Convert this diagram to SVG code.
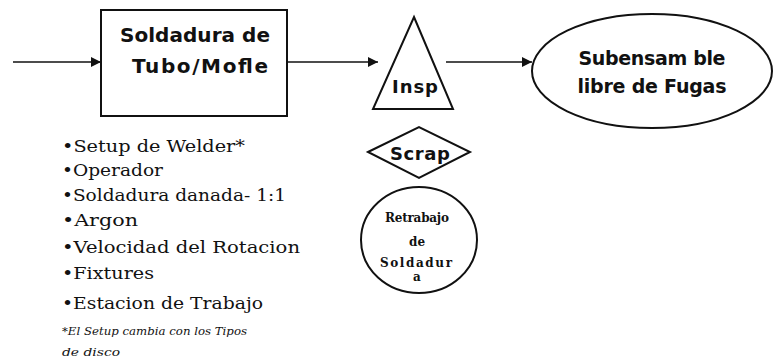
<svg xmlns="http://www.w3.org/2000/svg" width="773" height="359" viewBox="0 0 773 359">
<style>
.shape{fill:#fff;stroke:#111;stroke-width:2}
.conn{stroke:#111;stroke-width:1.6;fill:none}
.bold{font-family:"DejaVu Sans","Liberation Sans",sans-serif;font-weight:bold;fill:#111;text-anchor:middle}
.serif{font-family:"DejaVu Serif","Liberation Serif",serif;fill:#111}
.small{font-family:"DejaVu Serif","Liberation Serif",serif;font-weight:bold;fill:#111;text-anchor:middle;font-size:12px}
</style>
<defs>
<marker id="arr" viewBox="0 0 10 10" refX="10" refY="5" markerWidth="10" markerHeight="10" markerUnits="userSpaceOnUse" orient="auto">
<path d="M0,0 L10,5 L0,10 z" fill="#111"/>
</marker>
</defs>
<rect width="773" height="359" fill="#fff"/>
<g id="connectors">
<line class="conn" x1="13" y1="62" x2="101" y2="62" marker-end="url(#arr)"/>
<line class="conn" x1="287" y1="62" x2="378" y2="62" marker-end="url(#arr)"/>
<line class="conn" x1="446" y1="62" x2="532" y2="62" marker-end="url(#arr)"/>
</g>
<g id="soldadura">
<rect class="shape" x="101" y="10" width="186" height="106"/>
<text class="bold" x="195" y="42" font-size="20" textLength="150" lengthAdjust="spacing">Soldadura de</text>
<text class="bold" x="200" y="73" font-size="20" textLength="136" lengthAdjust="spacing">Tubo/Mofle</text>
</g>
<g id="insp">
<polygon class="shape" stroke-width="1.6" points="414,17 453,109 373,109"/>
<text class="bold" x="415" y="93" font-size="18" textLength="46" lengthAdjust="spacing">Insp</text>
</g>
<g id="subensamble">
<ellipse class="shape" cx="652" cy="71" rx="120" ry="57"/>
<text class="bold" x="652" y="65" font-size="19" textLength="147" lengthAdjust="spacing">Subensam ble</text>
<text class="bold" x="652" y="93" font-size="19" textLength="149" lengthAdjust="spacing">libre de Fugas</text>
</g>
<g id="scrap">
<polygon class="shape" stroke-width="1.6" points="368,152 419,127 470,152 419,178"/>
<text class="bold" x="420" y="160" font-size="18" textLength="60" lengthAdjust="spacing">Scrap</text>
</g>
<g id="retrabajo">
<ellipse class="shape" stroke-width="1.6" cx="419" cy="240" rx="58" ry="53"/>
<text class="small" x="417" y="222" textLength="64" lengthAdjust="spacing">Retrabajo</text>
<text class="small" x="417" y="246">de</text>
<text class="small" x="416" y="267" textLength="72" lengthAdjust="spacing">Soldadur</text>
<text class="small" x="417" y="281">a</text>
</g>
<g id="causas" class="serif" font-size="17">
<text x="62" y="152" textLength="183" lengthAdjust="spacingAndGlyphs">•Setup de Welder*</text>
<text x="62" y="176" textLength="101" lengthAdjust="spacingAndGlyphs">•Operador</text>
<text x="62" y="201" textLength="224" lengthAdjust="spacingAndGlyphs">•Soldadura danada- 1:1</text>
<text x="62" y="226" textLength="76" lengthAdjust="spacingAndGlyphs">•Argon</text>
<text x="62" y="253" textLength="238" lengthAdjust="spacingAndGlyphs">•Velocidad del Rotacion</text>
<text x="62" y="279" textLength="92" lengthAdjust="spacingAndGlyphs">•Fixtures</text>
<text x="62" y="309" textLength="201" lengthAdjust="spacingAndGlyphs">•Estacion de Trabajo</text>
<text x="62" y="335" font-size="11" font-style="italic" textLength="185" lengthAdjust="spacingAndGlyphs">*El Setup cambia con los Tipos</text>
<text x="62" y="356" font-size="11" font-style="italic" textLength="58" lengthAdjust="spacingAndGlyphs">de disco</text>
</g>
</svg>
